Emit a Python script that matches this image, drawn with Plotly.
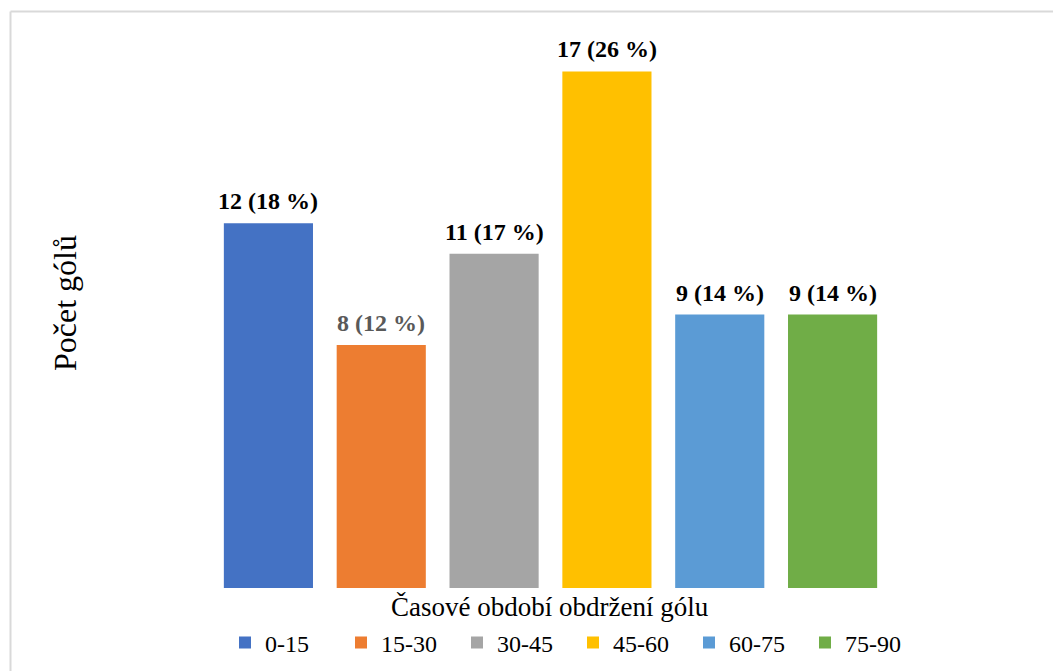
import plotly.graph_objects as go

# Goal-conceded time periods and counts
periods = ["0-15", "15-30", "30-45", "45-60", "60-75", "75-90"]
goals = [12, 8, 11, 17, 9, 9]
percents = [18, 12, 17, 26, 14, 14]
colors = ["#4472C4", "#ED7D31", "#A5A5A5", "#FFC000", "#5B9BD5", "#70AD47"]
label_colors = ["#000000", "#595959", "#000000", "#000000", "#000000", "#000000"]

FONT = "Liberation Serif"

W, H = 1053, 671
L, R, T, B = 212, 164, 41, 83
pw, ph = W - L - R, H - T - B


def px_x(x):
    return (x - L) / pw


def px_y(y):
    return (H - B - y) / ph


fig = go.Figure()
annotations = []
for p, g, pc, c, lc in zip(periods, goals, percents, colors, label_colors):
    fig.add_trace(go.Bar(
        x=[p], y=[g], name=p,
        marker=dict(color=c, line=dict(width=0)),
        hoverinfo="x+y",
    ))
    # value label above each bar
    annotations.append(dict(
        x=p, y=g, xref="x", yref="y",
        text=f"<b>{g} ({pc} %)</b>",
        xanchor="center", yanchor="bottom", yshift=7,
        showarrow=False,
        font=dict(family=FONT, size=24, color=lc),
    ))

annotations += [
    dict(text="Časové období obdržení gólu", xref="paper", yref="paper",
         x=px_x(550), y=px_y(607), xanchor="center", yanchor="middle",
         showarrow=False, font=dict(family=FONT, size=27, color="#000000")),
    dict(text="Počet gólů", xref="paper", yref="paper",
         x=px_x(65), y=px_y(303), xanchor="center", yanchor="middle",
         textangle=-90, showarrow=False,
         font=dict(family=FONT, size=32, color="#000000")),
]

fig.update_layout(
    width=W, height=H,
    margin=dict(l=L, r=R, t=T, b=B, autoexpand=False),
    font=dict(family=FONT, color="#000000"),
    paper_bgcolor="white", plot_bgcolor="white",
    barmode="overlay", bargap=0.21,
    showlegend=True,
    legend=dict(
        orientation="h",
        x=px_x(921), xanchor="right",
        y=px_y(643), yanchor="middle",
        font=dict(family=FONT, size=24, color="#000000"),
        entrywidth=71, entrywidthmode="pixels",
        traceorder="normal", bgcolor="rgba(0,0,0,0)",
    ),
    xaxis=dict(showticklabels=False, showline=False, showgrid=False,
               zeroline=False, ticks="", categoryorder="array",
               categoryarray=periods),
    yaxis=dict(range=[0, 18], showticklabels=False, showline=False,
               showgrid=False, zeroline=False, ticks=""),
    annotations=annotations,
    shapes=[
        dict(type="line", xref="paper", yref="paper",
             x0=px_x(10.5), x1=px_x(W + 5), y0=px_y(11.5), y1=px_y(11.5),
             line=dict(color="#D9D9D9", width=2)),
        dict(type="line", xref="paper", yref="paper",
             x0=px_x(10.5), x1=px_x(10.5), y0=px_y(11.5), y1=px_y(H + 5),
             line=dict(color="#D9D9D9", width=2)),
    ],
)

fig.write_html("out.html")
